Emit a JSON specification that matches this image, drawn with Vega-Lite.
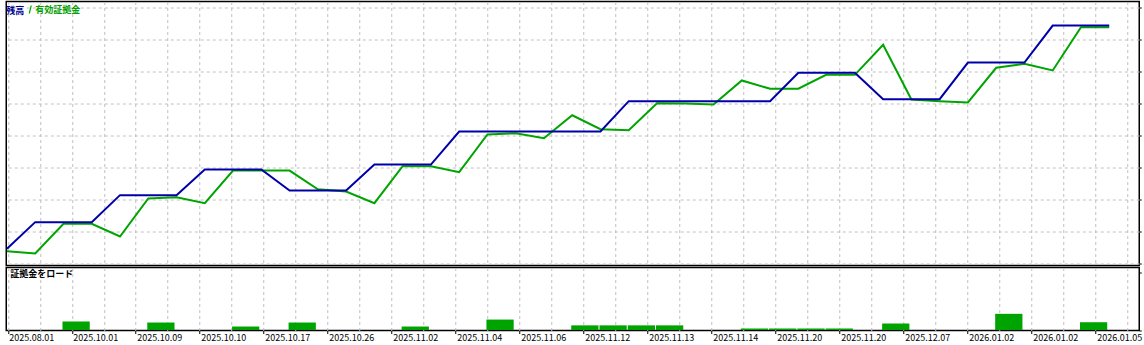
{
  "$schema": "https://vega.github.io/schema/vega-lite/v6.json",
  "background": "white",
  "padding": {"left": 1.25, "top": 0.5, "right": 0, "bottom": 0},
  "autosize": {"type": "pad"},
  "bounds": "flush",
  "spacing": 2,
  "config": {
    "view": {"stroke": "#000000", "strokeWidth": 1.5},
    "axis": {
      "labelFont": "Noto Sans CJK JP",
      "labelFontSize": 10,
      "labelColor": "#000000",
      "gridColor": "#c0c0c0",
      "gridDash": [3, 3],
      "gridWidth": 1,
      "tickColor": "#000000",
      "domain": false,
      "title": null,
      "tickCount": 100
    }
  },
  "datasets": {
    "curve": [
      {"i": 0, "balance": 4869, "equity": 4850},
      {"i": 1, "balance": 5077, "equity": 4832},
      {"i": 2, "balance": 5077, "equity": 5064},
      {"i": 3, "balance": 5077, "equity": 5064},
      {"i": 4, "balance": 5288, "equity": 4965},
      {"i": 5, "balance": 5288, "equity": 5262},
      {"i": 6, "balance": 5288, "equity": 5272},
      {"i": 7, "balance": 5488, "equity": 5225},
      {"i": 8, "balance": 5488, "equity": 5480},
      {"i": 9, "balance": 5488, "equity": 5480},
      {"i": 10, "balance": 5324, "equity": 5480},
      {"i": 11, "balance": 5324, "equity": 5334},
      {"i": 12, "balance": 5324, "equity": 5316},
      {"i": 13, "balance": 5527, "equity": 5225},
      {"i": 14, "balance": 5527, "equity": 5514},
      {"i": 15, "balance": 5527, "equity": 5514},
      {"i": 16, "balance": 5785, "equity": 5467},
      {"i": 17, "balance": 5785, "equity": 5762},
      {"i": 18, "balance": 5785, "equity": 5772},
      {"i": 19, "balance": 5785, "equity": 5733},
      {"i": 20, "balance": 5785, "equity": 5912},
      {"i": 21, "balance": 5785, "equity": 5803},
      {"i": 22, "balance": 6022, "equity": 5795},
      {"i": 23, "balance": 6022, "equity": 6006},
      {"i": 24, "balance": 6022, "equity": 6004},
      {"i": 25, "balance": 6022, "equity": 5996},
      {"i": 26, "balance": 6022, "equity": 6184},
      {"i": 27, "balance": 6022, "equity": 6119},
      {"i": 28, "balance": 6244, "equity": 6119},
      {"i": 29, "balance": 6244, "equity": 6230},
      {"i": 30, "balance": 6244, "equity": 6228},
      {"i": 31, "balance": 6038, "equity": 6463},
      {"i": 32, "balance": 6038, "equity": 6035},
      {"i": 33, "balance": 6038, "equity": 6022},
      {"i": 34, "balance": 6324, "equity": 6012},
      {"i": 35, "balance": 6324, "equity": 6283},
      {"i": 36, "balance": 6324, "equity": 6314},
      {"i": 37, "balance": 6613, "equity": 6262},
      {"i": 38, "balance": 6613, "equity": 6600},
      {"i": 39, "balance": 6613, "equity": 6600}
    ],
    "load": [
      {"start": 2, "end": 3, "load": 14.7},
      {"start": 5, "end": 6, "load": 12.9},
      {"start": 8, "end": 9, "load": 6},
      {"start": 10, "end": 11, "load": 12.9},
      {"start": 14, "end": 15, "load": 6},
      {"start": 17, "end": 18, "load": 18},
      {"start": 20, "end": 21, "load": 8},
      {"start": 21, "end": 22, "load": 8},
      {"start": 22, "end": 23, "load": 8},
      {"start": 23, "end": 24, "load": 8},
      {"start": 26, "end": 27, "load": 2.6},
      {"start": 27, "end": 28, "load": 2.6},
      {"start": 28, "end": 29, "load": 2.6},
      {"start": 29, "end": 30, "load": 2.6},
      {"start": 31, "end": 32, "load": 11.2},
      {"start": 35, "end": 36, "load": 27.9},
      {"start": 38, "end": 39, "load": 13.4}
    ]
  },
  "resolve": {"scale": {"x": "independent", "y": "independent"}},
  "vconcat": [
    {
      "width": 1133,
      "height": 264,
      "data": {"name": "curve"},
      "layer": [
        {
          "mark": {"type": "line", "strokeWidth": 2},
          "encoding": {
            "x": {
              "field": "i", "type": "quantitative",
              "scale": {"domain": [-0.0248, 40.062], "nice": false, "zero": false},
              "axis": {
                "values": [0.0283, 1.1605, 2.2927, 3.4249, 4.557, 5.6892, 6.8214, 7.9536, 9.0858, 10.218, 11.3501, 12.4823, 13.6145, 14.7467, 15.8789, 17.011, 18.1432, 19.2754, 20.4076, 21.5398, 22.672, 23.8041, 24.9363, 26.0685, 27.2007, 28.3329, 29.4651, 30.5972, 31.7294, 32.8616, 33.9938, 35.126, 36.2581, 37.3903, 38.5225, 39.6547],
                "tickCount": 100,
                "labels": false, "ticks": false, "grid": true
              }
            },
            "y": {
              "field": "equity", "type": "quantitative",
              "scale": {"domain": [4738.28, 6800.78], "nice": false, "zero": false},
              "axis": {
                "orient": "right",
                "values": [4750, 5000, 5250, 5500, 5750, 6000, 6250, 6500, 6750],
                "tickCount": 100,
                "grid": true, "tickSize": 2, "labelPadding": 2, "labelOverlap": false
              }
            },
            "color": {
              "datum": "有効証拠金", "type": "nominal",
              "scale": {"domain": ["残高", "有効証拠金"], "range": ["#0000aa", "#00a400"]},
              "legend": {
                "values": ["有効証拠金"],
                "orient": "none", "legendX": 0, "legendY": 3,
                "direction": "horizontal",
                "title": "残高", "titleOrient": "left",
                "titleColor": "#00008c", "titleFont": "Noto Sans CJK JP", "titleFontSize": 9, "titleFontWeight": "bold", "titlePadding": 0,
                "padding": 0,
                "symbolType": "M-0.25,1L0.25,-1", "symbolSize": 64, "symbolStrokeWidth": 1.2,
                "symbolStrokeColor": "#b06a30", "symbolFillColor": "transparent",
                "labelFont": "Noto Sans CJK JP", "labelFontSize": 9, "labelFontWeight": "bold", "labelColor": "#00a000", "labelOffset": 0
              }
            }
          }
        },
        {
          "mark": {"type": "line", "strokeWidth": 2},
          "encoding": {
            "x": {"field": "i", "type": "quantitative"},
            "y": {"field": "balance", "type": "quantitative"},
            "color": {"datum": "残高", "type": "nominal"}
          }
        }
      ]
    },
    {
      "width": 1133,
      "height": 63,
      "title": {"text": "証拠金をロード", "anchor": "start", "frame": "group", "offset": -12, "dx": 4, "dy": 9, "fontSize": 9, "font": "Noto Sans CJK JP", "fontWeight": "bold", "color": "#000000", "baseline": "bottom"},
      "data": {"name": "load"},
      "mark": {"type": "bar", "color": "#00a400", "xOffset": -1, "x2Offset": -2},
      "encoding": {
        "x": {
          "field": "start", "type": "quantitative",
          "scale": {"domain": [-0.0248, 40.062], "nice": false, "zero": false},
          "axis": {
            "values": [0.0283, 1.1605, 2.2927, 3.4249, 4.557, 5.6892, 6.8214, 7.9536, 9.0858, 10.218, 11.3501, 12.4823, 13.6145, 14.7467, 15.8789, 17.011, 18.1432, 19.2754, 20.4076, 21.5398, 22.672, 23.8041, 24.9363, 26.0685, 27.2007, 28.3329, 29.4651, 30.5972, 31.7294, 32.8616, 33.9938, 35.126, 36.2581, 37.3903, 38.5225, 39.6547],
            "tickCount": 100,
            "labelExpr": "round((datum.value - 0.028304) / 1.132182) % 2 == 0 ? ['2025.08.01','2025.10.01','2025.10.09','2025.10.10','2025.10.17','2025.10.26','2025.11.02','2025.11.04','2025.11.06','2025.11.12','2025.11.13','2025.11.14','2025.11.20','2025.11.20','2025.12.07','2026.01.02','2026.01.02','2026.01.05'][round((datum.value - 0.028304) / 1.132182) / 2] : ''",
            "labelFontSize": 9,
            "labelAlign": "left", "labelBaseline": "top", "labelPadding": 0, "labelOffset": 1,
            "labelOverlap": false, "labelFlush": false, "labelBound": false,
            "grid": true, "ticks": true, "tickSize": 3,
            "tickOpacity": {"condition": {"test": "round((datum.value - 0.028304) / 1.132182) % 2 == 1", "value": 0}, "value": 1}
          }
        },
        "x2": {"field": "end"},
        "y": {
          "field": "load", "type": "quantitative",
          "scale": {"domain": [-0.86, 107.8], "nice": false, "zero": false},
          "axis": {"orient": "right", "values": [0, 100], "grid": false, "tickSize": 2, "labelPadding": 2, "labelOverlap": false}
        },
        "y2": {"datum": 0}
      }
    }
  ]
}
